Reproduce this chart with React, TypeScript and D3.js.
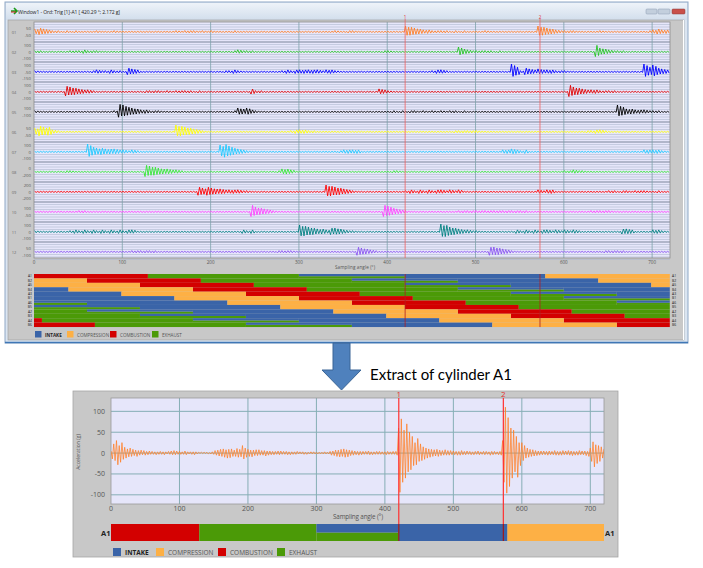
import React from "react";
import * as d3 from "d3";

// ---------- data ----------
const ANGLE_TICKS = [0, 100, 200, 300, 400, 500, 600, 700];
const ACC_TICKS = [-100, -50, 0, 50, 100];
const MARKER_LABELS = ["1", "2"];
const MARKER_ANGLES = [420.29, 573];
const PHASE_NAMES = ["INTAKE", "COMPRESSION", "COMBUSTION", "EXHAUST"];
const PHASE_COLORS = ["#3a64a8", "#fdb045", "#d30000", "#4b9a07"];
const CYLINDERS = ["A1", "B2", "A5", "B4", "A3", "B1", "A6", "B5", "A2", "B3", "A4", "B6"];
const CYLINDER_OFFSETS = [0, 60, 120, 180, 240, 300, 360, 420, 480, 540, 600, 660];
// one engine cycle, relative to the start of combustion
const CYCLE_PHASE = [2, 3, 3, 0, 0, 1];
const CYCLE_START = [0, 129, 300, 300, 420, 579];
const CYCLE_END = [129, 300, 420, 420, 579, 720];
const CYCLE_PART = ["full", "full", "lower", "upper", "full", "full"];

const TRACE_COLORS = [
  "#ff7f27", "#22c322", "#0000ff", "#e00000", "#000000", "#ffff00",
  "#1ec8ff", "#33e633", "#ff0000", "#ff44ff", "#008080", "#8a55f0",
];
const TRACE_LABELS = ["01", "02", "03", "04", "05", "06", "07", "08", "09", "10", "11", "12"];
const TRACE_TICKS = [
  ["50", "-50"], ["100", "0", "-100"], ["100", "-50", "-150"], ["100", "0", "-100"],
  ["100", "-100"], ["50", "-50"], ["100", "0", "-100"], ["0", "-200"],
  ["200", "0", "-200"], ["100", "-50"], ["100", "0", "-100"], ["50", "-100"],
];
// vibration envelope level per 5° bin (0..9), groups of 100°
const TRACE_LEVELS = [
  "45432212121111211121 11111111111121222121 21111211111111111111 11111111211221111111 11117654332222121211 11211111111111765432 22211111211111111112 3433",
  "22111111222322211111 11111111111111111111 11111232221111111111 11111111111111111112 21111111111111116432 22221211111111111111 11111118543222111111 1111",
  "21111111111112322322 15431111111111111111 11122321111111112323 33333233211111111111 11111111112332111111 11111111962543433322 21111111111111111196 8543",
  "11111117654332111111 11111222212122221211 11111111142211111111 11111111111111111143 21111111111111111111 11111111111111111111 18654333222211111111 1111",
  "21111111111111111129 86543322211111111111 11111254532111111111 11111111111111111111 12121221212121221211 11111111111111111111 11111111111186443332 2211",
  "57663211111111111111 11111111111187654321 11111111111111111123 33221111111111111111 11111111111111122222 21111111111111111111 11111223321111111111 1111",
  "11111111111196554443 32321111111111111111 11897543211111111111 11111111123333111111 11111111111111111111 11111133432311111111 11111111111111111133 3321",
  "11111112211111111111 11111876544332111111 11111111111111124431 11111111111111111111 12211111111111111111 11111111111111111111 22322111111111111111 1111",
  "11111111111111111111 11111111111111111656 54433332211111111111 11111187654321111111 11112323232332323111 11111111111111323311 11111111112212212221 1211",
  "11111111112211111111 11111111111111111111 11111111186543211111 11111111111111111118 75432111111111112222 22222222222211111111 11111122222111111111 1111",
  "21111111232323232323 23311111111111111111 11111113231111111111 87654435543221111111 11111111111198654332 21111111132323233232 32321111111114431111 3321",
  "11111111111111111111 11222222111111111111 11111111111111122221 11111111111116543211 11111111111111111111 11166543211111111111 11111111122222111111 1111",
];

// cylinder A1 acceleration (g), one sample every 2°
const A1_STEP = 2;
const A1_SIGNAL = [
  5, -14, 22, -18, 30, -28, 18, -22, 25, -15, 14, -12, 10, -9, 12, -8, 9, -6, 7, -8,
  6, -5, 7, -4, 6, -5, 4, -4, 5, -3, 4, -3, 3, -4, 3, -3, 4, -3, 3, -4,
  3, -2, 4, -3, 5, -4, 6, -4, 5, -3, 4, -3, 3, -3, 5, -4, 3, -2, 3, -3,
  3, -4, 3, -2, 2, -1, 2, -1, 2, -1, 2, -2, 1, -2, 3, -3, 6, -5, 7, -7,
  9, -8, 10, -10, 8, -12, 9, -11, 10, -8, 7, -8, 11, -10, 9, -9, 18, -14, 12, -10,
  9, -8, 7, -9, 7, -6, 8, -6, 8, -5, 6, -5, 6, -7, 5, -5, 5, -4, 4, -4,
  4, -3, 5, -4, 5, -3, 4, -3, 4, -4, 3, -4, 3, -3, 3, -3, 4, -2, 3, -2,
  3, -3, 2, -3, 2, -2, 3, -2, 3, -2, 2, -2, 2, -2, 2, -2, 3, -2, 2, -2,
  4, -5, 5, -6, 7, -8, 7, -9, 9, -8, 10, -10, 8, -9, 7, -6, 6, -5, 5, -4,
  4, -5, 4, -4, 4, -3, 4, -3, 5, -4, 3, -4, 3, -3, 4, -3, 4, -3, 3, -3,
  3, -4, 4, -3, 3, -3, 4, -3, 4, -5, 60, -94, 82, -70, 55, -60, 70, -45, 50, -40,
  40, -30, 25, -28, 35, -20, 22, -18, 15, -15, 12, -12, 10, -10, 9, -8, 8, -7, 9, -8,
  7, -6, 6, -5, 8, -5, 6, -5, 6, -4, 5, -4, 4, -5, 4, -5, 6, -4, 4, -4,
  5, -3, 4, -4, 3, -4, 4, -3, 5, -4, 3, -3, 4, -4, 4, -3, 3, -5, 4, -4,
  4, -3, 3, -4, 4, -5, 30, -70, 110, -96, 85, -80, 60, -60, 55, -45, 40, -58, 25, -30,
  25, -18, 18, -12, 12, -10, 9, -8, 8, -7, 6, -6, 5, -5, 5, -4, 5, -4, 4, -5,
  5, -4, 4, -4, 6, -5, 4, -5, 4, -5, 6, -4, 5, -4, 6, -5, 5, -6, 4, -5,
  4, -5, 6, -4, 5, -4, 5, -6, 4, -8, 12, -20, 27, -33, 20, -25, 18, -20, 15, -12,
  10,
];

const TITLE = "Window1 - Ord: Trig [1]-A1 [ 420.29 °; 2.172 g]";
const FONT = "'Open Sans', 'Noto Sans', sans-serif";

function wrapSegments(s: number, e: number): [number, number][] {
  const a = ((s % 720) + 720) % 720;
  const b = a + (e - s);
  if (b <= 720) return [[a, b]];
  return [[a, 720], [0, b - 720]];
}

function Gantt({ x, y0, h, offset, keyPrefix }: any) {
  const rects: any[] = [];
  CYCLE_PHASE.forEach((ph, k) => {
    wrapSegments(offset + CYCLE_START[k], offset + CYCLE_END[k]).forEach(([a, b], j) => {
      const part = CYCLE_PART[k];
      const yy = part === "lower" ? y0 + h / 2 : y0;
      const hh = part === "full" ? h : h / 2;
      rects.push(
        <rect key={`${keyPrefix}-${k}-${j}`} x={x(a)} y={yy} width={Math.max(0, x(b) - x(a))}
          height={hh} fill={PHASE_COLORS[ph]} />
      );
    });
  });
  return <g>{rects}</g>;
}

export default function App() {
  // ---------- top window ----------
  const xT = d3.scaleLinear().domain([0, 720]).range([34, 669.8]);
  const traceY = d3.scaleLinear().domain([0, 11]).range([32, 252]);
  const plotTop = 22, plotBottom = 258;
  const ganttTop = 274, rowH = 4.42;
  const ampPx = d3.scaleOrdinal<number, number>().domain([0, 1, 2, 3, 4, 5, 6, 7, 8, 9])
    .range([0.4, 0.7, 1.4, 2.2, 3.1, 4, 5, 6, 7, 8]);
  const SUB = [0.15, 0.5, 0.85];
  const MULT = [1, 0.55, 0.8, 0.65, 0.95, 0.5];

  const tracePaths = TRACE_LEVELS.map((s, i) => {
    const lv = s.replace(/\s/g, "").split("").map(Number);
    const pts: [number, number][] = [];
    let n = 0;
    lv.forEach((v, b) => {
      SUB.forEach((sb) => {
        const sign = n % 2 === 0 ? -1 : 1;
        pts.push([xT((b + sb) * 5), traceY(i) + sign * ampPx(v) * MULT[n % 6]]);
        n++;
      });
    });
    return d3.line()(pts) as string;
  });

  const minorLines: number[] = [];
  const sepLines: number[] = [];
  for (let i = 0; i < 12; i++) {
    const c = traceY(i);
    for (let k = -3; k <= 3; k++) if (k !== 0) minorLines.push(c + k * 2.5);
    if (i < 11) sepLines.push(c + 10);
  }

  // ---------- bottom chart ----------
  const xB = d3.scaleLinear().domain([0, 720]).range([111, 604]);
  const yB = d3.scaleLinear().domain([-122, 132]).range([504, 398]);
  const a1Path = d3.line<number>()
    .x((_, i) => xB(i * A1_STEP))
    .y((d) => yB(d))(A1_SIGNAL) as string;
  const bGanttTop = 524, bGanttH = 17;

  const legendTopX = [35, 67, 110, 152];
  const legendBotX = [113, 156, 218, 277];

  return (
    <svg width={703} height={568} style={{ position: "absolute", left: 0, top: 0, background: "#fff" }}
      fontFamily={FONT}>
      <defs>
        <linearGradient id="tb" x1="0" y1="0" x2="0" y2="1">
          <stop offset="0" stopColor="#eef3f9" />
          <stop offset="1" stopColor="#d2deec" />
        </linearGradient>
        <clipPath id="bclip"><rect x={111} y={398} width={493} height={106} /></clipPath>
      </defs>
      {/* window chrome */}
      <rect x={5} y={2} width={683} height={341} fill="#dbe5f1" stroke="#8fa8c6" />
      <rect x={6} y={3} width={681} height={17} fill="url(#tb)" />
      <path d="M11 11 h6 M14 8 l3 3 l-3 3" stroke="#1a9a1a" strokeWidth={1.6} fill="none" />
      <path d="M11 12 h5" stroke="#d02020" strokeWidth={1} />
      <text x={18} y={13.5} fontSize={5} fill="#222" textLength={102}>{TITLE}</text>
      <rect x={646} y={9} width={11} height={5} rx={1} fill="#c3cfdd" stroke="#8a9bb0" strokeWidth={0.5} />
      <rect x={658} y={9} width={12} height={5} rx={1} fill="#c3cfdd" stroke="#8a9bb0" strokeWidth={0.5} />
      <rect x={672} y={9} width={13} height={5} rx={1} fill="#c9504a" stroke="#8a3a3a" strokeWidth={0.5} />
      <rect x={8} y={20} width={676} height={320} fill="#c8c8c8" stroke="#9a9a9a" strokeWidth={0.6} />
      <line x1={683.5} y1={20} x2={683.5} y2={340} stroke="#ffffff" />
      <line x1={5} y1={342.5} x2={688} y2={342.5} stroke="#3f77b6" strokeWidth={1.5} />

      {/* top plot */}
      <rect x={34} y={plotTop} width={636} height={plotBottom - plotTop} fill="#e6e6fa" />
      {minorLines.map((y, i) => (
        <line key={`mn${i}`} x1={34} x2={670} y1={y} y2={y} stroke="#aeb8cf" strokeWidth={0.6} />
      ))}
      {sepLines.map((y, i) => (
        <line key={`sp${i}`} x1={34} x2={670} y1={y} y2={y} stroke="#6f7c90" strokeWidth={0.9} />
      ))}
      {ANGLE_TICKS.filter((t) => t > 0).map((t) => (
        <line key={`vg${t}`} x1={xT(t)} x2={xT(t)} y1={plotTop} y2={plotBottom} stroke="#7ea2ab" strokeWidth={0.8} />
      ))}
      <rect x={34} y={plotTop} width={636} height={plotBottom - plotTop} fill="none" stroke="#8d8d8d" strokeWidth={0.8} />
      {tracePaths.map((p, i) => (
        <path key={`tr${i}`} d={p} fill="none" stroke={TRACE_COLORS[i]} strokeWidth={0.9} />
      ))}
      {TRACE_TICKS.map((ticks, i) => {
        const c = traceY(i);
        const off = ticks.length === 3 ? [-6.5, 0, 6.5] : [-3.7, 3.7];
        return (
          <g key={`tt${i}`}>
            <text x={14} y={c + 1.5} fontSize={4} fill="#666" textAnchor="middle">{TRACE_LABELS[i]}</text>
            {ticks.map((t, j) => (
              <text key={j} x={31} y={c + off[j] + 1.5} fontSize={4.3} fill="#555" textAnchor="end">{t}</text>
            ))}
          </g>
        );
      })}
      {ANGLE_TICKS.map((t) => (
        <text key={`xt${t}`} x={xT(t)} y={264} fontSize={4.5} fill="#555" textAnchor="middle">{t}</text>
      ))}
      <text x={335} y={269} fontSize={4.6} fill="#555" textLength={40}>Sampling angle (°)</text>

      {/* top gantt */}
      {CYLINDERS.map((c, i) => (
        <g key={`tg${c}`}>
          <Gantt x={xT} y0={ganttTop + i * rowH} h={rowH} offset={CYLINDER_OFFSETS[i]} keyPrefix={`t${i}`} />
          <text x={32} y={ganttTop + i * rowH + 3.3} fontSize={3.4} fill="#222" textAnchor="end">{c}</text>
          <text x={672} y={ganttTop + i * rowH + 3.3} fontSize={3.4} fill="#222">{c}</text>
        </g>
      ))}
      {MARKER_ANGLES.map((a, i) => (
        <g key={`tm${i}`}>
          <line x1={xT(a)} x2={xT(a)} y1={plotTop - 3} y2={plotBottom} stroke="#f06060" strokeWidth={0.8} />
          <line x1={xT(a)} x2={xT(a)} y1={ganttTop} y2={ganttTop + 12 * rowH} stroke="#b02020" strokeWidth={0.8} />
          <text x={xT(a)} y={18.5} fontSize={4.5} fill="#e03030" textAnchor="middle">{MARKER_LABELS[i]}</text>
        </g>
      ))}
      {PHASE_NAMES.map((n, i) => (
        <g key={`tl${n}`}>
          <rect x={legendTopX[i]} y={331} width={6.5} height={6.5} fill={PHASE_COLORS[i]} />
          <text x={legendTopX[i] + 10} y={336.7} fontSize={4.6} fill={i === 0 ? "#222" : "#555"}
            fontWeight={i === 0 ? "bold" : "normal"}>{n}</text>
        </g>
      ))}

      {/* arrow */}
      <path d="M333 343 H350 V370 H361 L341.5 390 L322 370 H333 Z" fill="#4f81bd" stroke="#3a6596" strokeWidth={1} />
      <text x={370} y={380} fontSize={15} fill="#000" fontFamily="Lato, 'Open Sans', sans-serif">Extract of cylinder A1</text>

      {/* bottom chart frame */}
      <rect x={73} y={391} width={545} height={166} fill="#c8c8c8" stroke="#a5a5a5" strokeWidth={0.8} />
      <rect x={111} y={398} width={493} height={106} fill="#e6e6fa" />
      {ACC_TICKS.map((t) => (
        <g key={`yg${t}`}>
          <line x1={111} x2={604} y1={yB(t)} y2={yB(t)} stroke="#86aeb5" strokeWidth={1} />
          <text x={105} y={yB(t) + 2.5} fontSize={7} fill="#555" textAnchor="end">{t}</text>
        </g>
      ))}
      {ANGLE_TICKS.map((t) => (
        <g key={`bx${t}`}>
          {t > 0 && <line x1={xB(t)} x2={xB(t)} y1={398} y2={504} stroke="#86aeb5" strokeWidth={1} />}
          <text x={xB(t)} y={511} fontSize={7} fill="#555" textAnchor="middle">{t}</text>
        </g>
      ))}
      <rect x={111} y={398} width={493} height={106} fill="none" stroke="#9a9a9a" strokeWidth={0.8} />
      <text transform="translate(80,452) rotate(-90)" fontSize={5} fill="#555" textAnchor="middle">Acceleration (g)</text>
      <text x={333} y={519} fontSize={6.3} fill="#555" textLength={50}>Sampling angle (°)</text>
      <path d={a1Path} fill="none" stroke="#ff7f27" strokeWidth={0.9} strokeOpacity={0.85} clipPath="url(#bclip)" />

      <Gantt x={xB} y0={bGanttTop} h={bGanttH} offset={0} keyPrefix="b" />
      <text x={101} y={535.5} fontSize={7.5} fontWeight="bold" fill="#222">A1</text>
      <text x={605} y={535.5} fontSize={7.5} fontWeight="bold" fill="#222">A1</text>
      {MARKER_ANGLES.map((a, i) => (
        <g key={`bm${i}`}>
          <line x1={xB(a)} x2={xB(a)} y1={398} y2={bGanttTop} stroke="#ff3030" strokeWidth={1.2} />
          <line x1={xB(a)} x2={xB(a)} y1={bGanttTop} y2={bGanttTop + bGanttH} stroke="#a01818" strokeWidth={1.2} />
          <text x={xB(a)} y={396.5} fontSize={8} fill="#e03030" textAnchor="middle">{MARKER_LABELS[i]}</text>
        </g>
      ))}
      {PHASE_NAMES.map((n, i) => (
        <g key={`bl${n}`}>
          <rect x={legendBotX[i]} y={548} width={8} height={8} fill={PHASE_COLORS[i]} />
          <text x={legendBotX[i] + 12} y={555} fontSize={6.5} fill={i === 0 ? "#222" : "#555"}
            fontWeight={i === 0 ? "bold" : "normal"}>{n}</text>
        </g>
      ))}
    </svg>
  );
}
